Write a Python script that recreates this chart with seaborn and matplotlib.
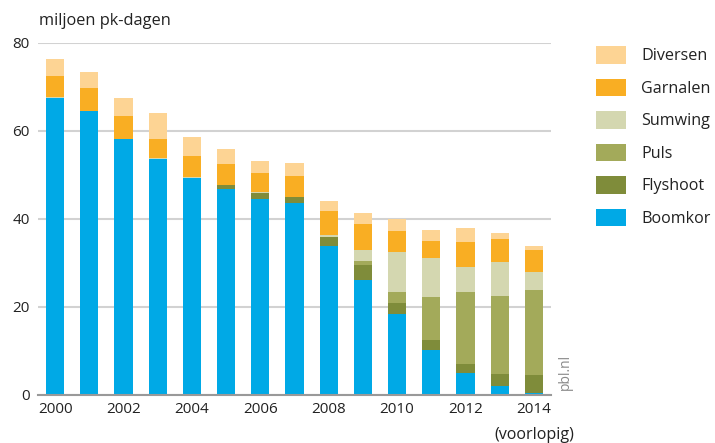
import numpy as np
import pandas as pd
import matplotlib
matplotlib.use("Agg")
import matplotlib.pyplot as plt
import seaborn as sns
from matplotlib.patches import Patch

years = [str(y) for y in range(2000, 2015)]
boomkor  = [67.4, 64.4, 58.1, 53.6, 49.3, 46.7, 44.5, 43.5, 33.8, 26.1, 18.3, 10.2, 4.9, 2.0, 0.4]
flyshoot = [0.0, 0.0, 0.0, 0.0, 0.0, 1.1, 1.3, 1.4, 2.0, 3.4, 2.5, 2.2, 2.1, 2.7, 4.1]
puls     = [0.0, 0.0, 0.0, 0.0, 0.0, 0.0, 0.0, 0.0, 0.0, 0.9, 2.5, 9.8, 16.3, 17.7, 19.3]
sumwing  = [0.2, 0.0, 0.0, 0.2, 0.2, 0.0, 0.3, 0.0, 0.6, 2.5, 9.1, 8.9, 5.7, 7.8, 4.1]
garnalen = [4.8, 5.3, 5.2, 4.3, 4.8, 4.6, 4.3, 4.8, 5.3, 5.9, 4.8, 3.8, 5.7, 5.2, 5.0]
diversen = [3.9, 3.6, 4.1, 5.9, 4.3, 3.5, 2.7, 3.0, 2.3, 2.5, 2.7, 2.5, 3.2, 1.5, 1.0]

series_names = ["Boomkor", "Flyshoot", "Puls", "Sumwing", "Garnalen", "Diversen"]
series_vals = [boomkor, flyshoot, puls, sumwing, garnalen, diversen]
colors = ["#00A9E6", "#7F8C3A", "#A3AA5A", "#D4D7B0", "#F9AE23", "#FDD494"]

xtick_years = ["2000", "2002", "2004", "2006", "2008", "2010", "2012", "2014"]
yticks = [0, 20, 40, 60, 80]

sns.set_theme(style="white")
plt.rcParams["font.family"] = ["Open Sans", "DejaVu Sans"]
txt = "#222222"

fig = plt.figure(figsize=(7.15, 4.43), dpi=100)
ax = fig.add_axes([38/715, 48/443, (551-38)/715, (395-42.7)/443])

cum = np.cumsum(np.array(series_vals), axis=0)
for i in range(len(series_names) - 1, -1, -1):
    df = pd.DataFrame({"year": years, "value": cum[i]})
    sns.barplot(data=df, x="year", y="value", color=colors[i], saturation=1,
                width=0.53, linewidth=0, ax=ax, zorder=3, order=years)

ax.set_xlim(-0.5, 14.5)
ax.set_ylim(0, 80)
ax.set_yticks(yticks)
ax.set_yticklabels([str(v) for v in yticks])
ax.set_xticks([years.index(y) for y in xtick_years])
ax.set_xticklabels(xtick_years)
ax.set_xlabel("")
ax.set_ylabel("")
ax.tick_params(axis="both", length=0, labelsize=11, colors=txt)
ax.tick_params(axis="y", pad=6)
ax.tick_params(axis="x", pad=5)
ax.yaxis.grid(True, color="#D2D2D2", linewidth=1.5, zorder=0)
ax.set_axisbelow(True)
for s in ["top", "right", "left"]:
    ax.spines[s].set_visible(False)
ax.spines["bottom"].set_color("#999999")
ax.spines["bottom"].set_linewidth(1.5)
ax.spines["bottom"].set_zorder(5)

fig.text(39/715, 1 - 21/443, "miljoen pk-dagen", fontsize=11.8, color=txt, va="center", ha="left")
fig.text(534.5/715, 1 - 435/443, "(voorlopig)", fontsize=11.6, color=txt, va="center", ha="center")
fig.text(565/715, 1 - 372/443, "pbl.nl", fontsize=10, color="#8A8A8A", rotation=90, va="center", ha="center")

handles = [Patch(facecolor=colors[i], edgecolor="none", label=series_names[i])
           for i in range(len(series_names) - 1, -1, -1)]
fig.legend(handles=handles, loc="upper left", bbox_to_anchor=(588/715, 1 - 38/443),
           frameon=False, fontsize=11.6, handlelength=1.85, handleheight=1.3,
           labelspacing=0.89, handletextpad=0.95, borderpad=0, labelcolor=txt)

fig.savefig("out.png", dpi=100)
